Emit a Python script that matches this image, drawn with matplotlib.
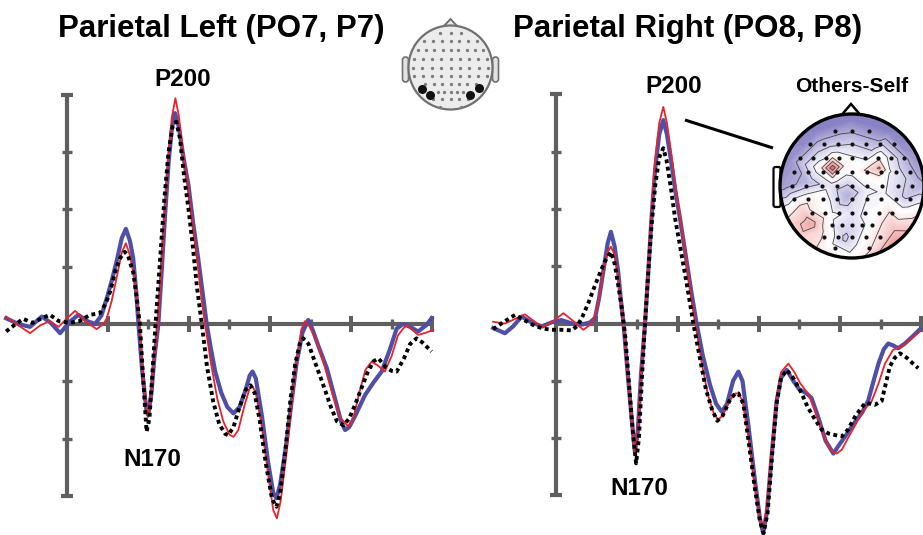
import numpy as np
import matplotlib
matplotlib.use("Agg")
import matplotlib.pyplot as plt
from matplotlib.patches import Circle, Polygon, FancyBboxPatch
import matplotlib.tri as mtri
from matplotlib.colors import LinearSegmentedColormap

# ---------------- data (time in ms, amplitude in uV) ----------------
left_blue = [(-150,0.10),(-120,0.0),(-91,-0.05),(-62,0.13),(-40,0.02),(-17,-0.16),(7,0.04),(28,0.16),(50,0.05),(69,0.0),
             (85,0.15),(98,0.45),(110,0.75),(122,1.09),(135,1.5),(145,1.66),(155,1.45),(163,1.15),(170,0.6),(176,0.0),
             (185,-0.8),(196,-1.53),(200,-1.59),(208,-1.2),(215,-0.6),(225,0.0),(233,0.9),(241,1.84),(250,2.8),(258,3.4),
             (266,3.68),(275,3.45),(287,2.9),(299,2.43),(310,1.8),(323,1.15),(334,0.55),(344,0.0),(355,-0.45),(365,-0.83),
             (380,-1.2),(395,-1.45),(410,-1.56),(425,-1.45),(440,-1.15),(450,-0.9),(457,-0.83),(465,-0.95),(480,-1.6),
             (495,-2.4),(508,-2.95),(516,-3.04),(525,-2.8),(540,-2.1),(553,-1.36),(565,-0.7),(580,-0.15),(594,0.07),
             (605,-0.1),(620,-0.4),(640,-0.77),(660,-1.3),(675,-1.7),(685,-1.85),(695,-1.8),(710,-1.6),(734,-1.24),
             (755,-1.02),(775,-0.83),(795,-0.45),(812,-0.08),(828,0.0),(845,-0.05),(865,-0.13),(885,-0.02),(898,0.1)]

left_red = [(-150,0.13),(-125,0.0),(-91,-0.16),(-65,-0.02),(-42,0.05),(-21,-0.05),(0,0.1),(20,0.23),(45,0.05),(73,-0.09),
            (90,0.0),(98,0.1),(110,0.4),(122,0.8),(135,1.25),(145,1.41),(155,1.2),(163,0.9),(172,0.56),(180,-0.1),
            (188,-0.95),(196,-1.5),(200,-1.62),(208,-1.25),(215,-0.6),(224,0.0),(233,0.95),(241,1.9),(250,2.9),(258,3.6),
            (267,3.94),(275,3.65),(287,2.95),(299,2.35),(310,1.7),(323,1.0),(332,0.4),(340,0.0),(355,-0.7),(370,-1.3),
            (385,-1.7),(400,-1.93),(410,-1.97),(422,-1.85),(438,-1.4),(450,-1.12),(457,-1.09),(465,-1.2),(480,-1.8),
            (495,-2.6),(508,-3.25),(517,-3.39),(526,-3.1),(540,-2.3),(553,-1.45),(565,-0.7),(577,-0.1),(586,0.05),
            (598,-0.05),(615,-0.3),(635,-0.75),(655,-1.25),(675,-1.65),(693,-1.79),(705,-1.65),(720,-1.2),(735,-0.8),
            (750,-0.66),(765,-0.72),(783,-0.83),(800,-0.55),(815,-0.2),(828,-0.08),(837,-0.02),(850,-0.1),(865,-0.19),
            (885,-0.15),(902,-0.1)]

left_black = [(-150,-0.13),(-130,-0.02),(-108,0.09),(-85,0.02),(-62,0.1),(-42,0.16),(-20,0.05),(7,0.02),(30,0.05),(57,0.16),
              (81,0.19),(95,0.35),(106,0.56),(120,0.95),(131,1.15),(142,1.26),(150,1.2),(163,0.9),(172,0.45),(180,-0.05),
              (188,-1.0),(196,-1.88),(203,-1.65),(210,-0.9),(218,0.0),(228,1.0),(240,2.2),(250,3.0),(260,3.45),(269,3.53),
              (278,3.25),(288,2.6),(299,2.02),(310,1.35),(320,0.65),(332,0.0),(345,-0.75),(360,-1.35),(375,-1.75),
              (390,-1.92),(397,-1.94),(410,-1.8),(425,-1.45),(440,-1.15),(452,-1.07),(462,-1.2),(475,-1.7),(490,-2.45),
              (505,-3.05),(516,-3.19),(525,-2.95),(538,-2.2),(550,-1.35),(562,-0.7),(573,-0.35),(582,-0.25),(595,-0.35),
              (610,-0.65),(631,-1.06),(650,-1.45),(665,-1.7),(681,-1.77),(695,-1.65),(710,-1.4),(722,-1.18),(740,-0.85),
              (755,-0.65),(767,-0.6),(785,-0.75),(800,-0.82),(812,-0.83),(830,-0.6),(845,-0.35),(861,-0.25),(875,-0.32),
              (898,-0.48)]

right_blue = [(-154,-0.08),(-125,-0.17),(-105,-0.05),(-84,0.12),(-60,0.02),(-34,-0.05),(-10,0.02),(14,0.06),(40,0.0),
              (64,-0.02),(85,0.02),(97,0.1),(107,0.45),(117,0.9),(128,1.4),(136,1.6),(145,1.35),(154,0.9),(160,0.45),
              (167,0.0),(177,-0.85),(187,-1.65),(195,-2.24),(202,-1.9),(210,-0.9),(220,0.0),(228,0.9),(236,1.84),
              (245,2.7),(255,3.3),(265,3.55),(274,3.3),(285,2.8),(295,2.3),(306,1.84),(320,1.2),(333,0.6),(347,0.0),
              (362,-0.55),(380,-1.07),(395,-1.4),(409,-1.54),(422,-1.4),(437,-1.0),(450,-0.84),(460,-1.0),(475,-1.8),
              (490,-2.7),(503,-3.4),(511,-3.66),(520,-3.3),(532,-2.3),(544,-1.36),(555,-0.95),(569,-0.81),(585,-1.0),
              (600,-1.15),(618,-1.22),(630,-1.3),(645,-1.6),(665,-2.05),(684,-2.27),(695,-2.15),(713,-1.97),(741,-1.68),
              (755,-1.55),(770,-1.34),(783,-1.0),(795,-0.7),(808,-0.45),(819,-0.35),(830,-0.38),(844,-0.43),(860,-0.35),
              (880,-0.22),(897,-0.10)]

right_red = [(-154,0.03),(-125,0.0),(-100,0.08),(-76,0.16),(-55,0.05),(-31,-0.07),(-5,0.05),(19,0.18),(42,0.05),(68,-0.11),
             (85,-0.02),(97,0.14),(107,0.45),(117,0.9),(128,1.25),(136,1.34),(145,1.2),(154,0.8),(160,0.4),(167,0.0),
             (177,-0.85),(187,-1.65),(195,-2.24),(202,-1.9),(210,-0.9),(219,0.0),(228,1.0),(236,1.95),(245,2.85),
             (255,3.5),(265,3.78),(274,3.5),(285,2.95),(295,2.4),(306,1.9),(320,1.2),(332,0.55),(344,0.0),(360,-0.7),
             (375,-1.25),(390,-1.58),(400,-1.68),(412,-1.6),(428,-1.35),(442,-1.22),(450,-1.22),(460,-1.35),(475,-2.0),
             (490,-2.8),(503,-3.4),(511,-3.58),(520,-3.2),(532,-2.2),(544,-1.3),(555,-0.85),(573,-0.70),(588,-0.85),
             (602,-1.04),(624,-1.25),(640,-1.55),(660,-1.95),(675,-2.2),(692,-2.27),(705,-2.2),(720,-2.0),(745,-1.68),
             (760,-1.5),(778,-1.36),(795,-1.05),(811,-0.70),(831,-0.46),(852,-0.40),(870,-0.3),(897,-0.14)]

right_black = [(-154,-0.1),(-130,0.02),(-100,0.15),(-75,0.05),(-52,-0.04),(-30,-0.09),(-10,-0.11),(15,-0.11),(39,-0.12),
               (52,-0.05),(64,0.09),(80,0.35),(97,0.67),(110,0.9),(121,1.08),(136,1.25),(145,1.05),(154,0.67),(162,0.3),
               (171,-0.2),(180,-1.0),(190,-1.9),(198,-2.44),(205,-2.0),(212,-1.0),(220,0.0),(228,0.9),(236,1.7),
               (245,2.4),(255,2.9),(265,3.06),(273,2.85),(284,2.35),(294,1.84),(310,1.2),(325,0.6),(339,0.0),(355,-0.6),
               (370,-1.15),(385,-1.5),(398,-1.70),(412,-1.6),(428,-1.35),(442,-1.22),(450,-1.22),(462,-1.4),(475,-2.05),
               (490,-2.85),(503,-3.45),(512,-3.66),(522,-3.3),(533,-2.3),(544,-1.4),(555,-0.95),(569,-0.81),(585,-0.95),
               (606,-1.22),(620,-1.45),(639,-1.68),(655,-1.85),(672,-1.92),(690,-1.95),(705,-1.97),(720,-1.85),
               (737,-1.63),(750,-1.5),(762,-1.39),(775,-1.4),(786,-1.42),(803,-1.35),(813,-1.05),(823,-0.75),(835,-0.6),
               (848,-0.52),(865,-0.6),(880,-0.7),(893,-0.78)]

x_ticks_major = [100, 300, 500, 700, 900]
x_ticks_minor = [200, 400, 600, 800]
y_ticks = [-2, -1, 1, 2, 3]
y_ends = [-3, 4]

titles = ["Parietal Left (PO7, P7)", "Parietal Right (PO8, P8)"]

# topography (Others-Self): positions on unit head, value
topo_x = [0, -0.5, 0.5, -0.85, 0.85, -0.95, 0.95, 0, -0.3, 0.3, -0.27, -0.45, -0.1, 0.05, 0.38, 0.55, 0.2,
          -0.6, -0.3, -0.06, 0.2, 0.45, 0.75, -0.85, -0.57, -0.3, 0, 0.3, 0.59, 0.68, 0.85, -0.1, -0.4, 0.25, 0, -0.75,
          -0.27, -0.27, 0.38, 0.38, -0.06, -0.06, -0.7, -0.45]
topo_y = [0.9, 0.75, 0.75, 0.35, 0.35, 0, 0, 0.55, 0.55, 0.55, 0.25, 0.25, 0.28, 0.2, 0.25, 0.2, 0.35,
          0.05, 0, -0.14, -0.05, -0.1, -0.15, -0.4, -0.53, -0.4, -0.4, -0.45, -0.62, -0.81, -0.5, -0.74, -0.85, -0.9, -1.0, -0.7,
          0.44, 0.07, 0.42, 0.08, 0.05, -0.3, -0.3, -0.62]
topo_v = [-0.85, -0.85, -0.85, -0.75, -0.7, -0.7, -0.55, -0.3, -0.35, -0.45, 1.0, 0.05, 0.1, 0.0, 0.55, -0.15, -0.1,
          -0.5, -0.2, -0.6, -0.15, -0.1, -0.4, 0.2, 0.65, -0.05, -0.2, 0.0, 0.5, 0.8, 0.3, -0.4, 0.1, 0.2, 0.0, 0.4,
          -0.05, -0.05, 0.05, 0.0, -0.3, -0.3, 0.3, 0.3]
rim_angle = [90, 60, 30, 0, -30, -60, -90, -120, -150, 180, 150, 120]
rim_v = [-0.9, -0.9, -0.8, -0.6, 0.4, 0.8, 0.0, 0.2, 0.3, -0.75, -0.8, -0.9]

electrode_rows = [(0.82, [-0.26, 0.0, 0.26]),
                  (0.62, [-0.62, -0.42, -0.21, 0.0, 0.21, 0.42, 0.62]),
                  (0.42, [-0.78, -0.58, -0.39, -0.19, 0.0, 0.19, 0.39, 0.58, 0.78]),
                  (0.21, [-0.86, -0.65, -0.43, -0.22, 0.0, 0.22, 0.43, 0.65, 0.86]),
                  (0.0, [-0.9, -0.68, -0.45, -0.23, 0.0, 0.23, 0.45, 0.68, 0.9]),
                  (-0.2, [-0.86, -0.65, -0.43, -0.22, 0.0, 0.22, 0.43, 0.65, 0.86]),
                  (-0.4, [-0.6, -0.4, -0.2, 0.0, 0.2, 0.4, 0.6]),
                  (-0.58, [-0.3, -0.15, 0.0, 0.15, 0.3]),
                  (-0.76, [-0.42, -0.21, 0.0, 0.21, 0.42]),
                  (-0.93, [-0.25, 0.25])]
selected = [(-0.67, -0.5), (-0.48, -0.65), (0.67, -0.48), (0.47, -0.65)]

# ---------------- figure ----------------
W, H = 923, 535
fig = plt.figure(figsize=(W / 100, H / 100), dpi=100)
FONT = "Liberation Sans"
BLUE, RED, GRAY = "#4f4fa6", "#e8232b", "#5f5f5f"


def add_panel(X0, Y0, SX, SY, xlim, ylim):
    x0 = X0 + SX * xlim[0] / 100.0
    x1 = X0 + SX * xlim[1] / 100.0
    ytop = Y0 - SY * ylim[1]
    ybot = Y0 - SY * ylim[0]
    ax = fig.add_axes([x0 / W, 1 - ybot / H, (x1 - x0) / W, (ybot - ytop) / H])
    ax.set_xlim(*xlim)
    ax.set_ylim(*ylim)
    ax.axis("off")
    return ax


def draw_panel(ax, blue, red, black):
    ax.plot([0, 0], [y_ends[0], y_ends[1]], color=GRAY, lw=3.0, solid_capstyle="butt", zorder=1)
    ax.plot([0, 900], [0, 0], color=GRAY, lw=3.0, solid_capstyle="butt", zorder=1)
    ax.plot([0] * len(y_ticks), y_ticks, ls="none", marker="_", ms=6.5, mew=2.4, color=GRAY, zorder=1)
    ax.plot([0] * len(y_ends), y_ends, ls="none", marker="_", ms=8.0, mew=3.0, color=GRAY, zorder=1)
    ax.plot(x_ticks_major, [0] * len(x_ticks_major), ls="none", marker="|", ms=11.5, mew=2.9, color=GRAY, zorder=1)
    ax.plot(x_ticks_minor, [0] * len(x_ticks_minor), ls="none", marker="|", ms=7.5, mew=2.4, color=GRAY, zorder=1)
    t, v = np.array(blue).T
    ax.plot(t, v, color=BLUE, lw=3.0, solid_joinstyle="round", zorder=3)
    t, v = np.array(red).T
    ax.plot(t, v, color=RED, lw=1.3, solid_joinstyle="round", zorder=4)
    t, v = np.array(black).T
    ax.plot(t, v, color="black", lw=2.8, dashes=(1.0, 0.9), zorder=5)


axL = add_panel(67, 324, 40.6, 57.3, (-165, 930), (-3.6, 4.6))
draw_panel(axL, left_blue, left_red, left_black)
axR = add_panel(555.7, 323.5, 40.6, 57.3, (-170, 910), (-3.8, 4.6))
draw_panel(axR, right_blue, right_red, right_black)

# overlay in pixel coordinates
ov = fig.add_axes([0, 0, 1, 1])
ov.set_xlim(0, W)
ov.set_ylim(H, 0)
ov.axis("off")

ov.text(221, 37.5, titles[0], ha="center", va="baseline", fontsize=22.5, fontweight="bold", family=FONT)
ov.text(688, 37.5, titles[1], ha="center", va="baseline", fontsize=22.5, fontweight="bold", family=FONT)
lab = dict(ha="center", va="baseline", fontsize=17.5, fontweight="bold", family=FONT)
ov.text(183, 86, "P200", **lab)
ov.text(152, 466, "N170", **lab)
ov.text(674, 93, "P200", **lab)
ov.text(639, 495, "N170", **lab)
ov.text(852, 92, "Others-Self", ha="center", va="baseline", fontsize=15, fontweight="bold", family=FONT)

# small head icon
hx, hy, hr = 450.5, 67.5, 42
for ex in (402.5, 492.5):
    ov.add_patch(FancyBboxPatch((ex, 57), 6, 25, boxstyle="round,pad=0,rounding_size=3",
                                fc="#e2e2e2", ec="#707070", lw=1.2, zorder=5))
ov.add_patch(Polygon([(443, 27), (450.5, 19), (458, 27)], closed=True, fc="#ebebeb", ec="#707070", lw=1.4, zorder=5))
ov.add_patch(Circle((hx, hy), hr, fc="#ececec", ec="#707070", lw=1.6, zorder=6))
for ry, xs in electrode_rows:
    ov.plot([hx + hr * x for x in xs], [hy - hr * ry] * len(xs), ls="none", marker="o", ms=2.4,
            color="#7c7c7c", mec="none", zorder=7)
sx, sy = zip(*selected)
ov.plot([hx + hr * x for x in sx], [hy - hr * y for y in sy], ls="none", marker="o", ms=6.5,
        color="#111111", mec="none", zorder=8)

# connector line
ov.plot([685, 773], [120, 148], color="black", lw=2.2, solid_capstyle="butt", zorder=5)

# topographic map
tx, ty, tr = 852, 186, 72
ov.add_patch(FancyBboxPatch((773.5, 167), 7, 40, boxstyle="round,pad=0,rounding_size=2",
                            fc="white", ec="black", lw=1.6, zorder=5))
ov.add_patch(Polygon([(839, 118), (851, 104), (863, 118)], closed=True, fc="white", ec="black", lw=1.8, zorder=5))
ov.add_patch(Circle((tx, ty), tr, fc="white", ec="none", zorder=6))
px = list(topo_x) + [1.05 * np.cos(np.radians(a)) for a in rim_angle]
py = list(topo_y) + [1.05 * np.sin(np.radians(a)) for a in rim_angle]
pv = list(topo_v) + list(rim_v)
X = [tx + tr * a for a in px]
Y = [ty - tr * b for b in py]
tri = mtri.Triangulation(X, Y)
cmap = LinearSegmentedColormap.from_list("pw", ["#6a61b2", "#b7b2dd", "#ffffff", "#f5bcbc", "#e06464"])
clip = Circle((tx, ty), tr, transform=ov.transData)
cf = ov.tricontourf(tri, pv, levels=np.linspace(-1.1, 1.1, 45), cmap=cmap, zorder=7)
cf.set_clip_path(clip)
cl = ov.tricontour(tri, pv, levels=[-0.6, -0.35, -0.12, 0.2, 0.5, 0.8], colors="#454545",
                   linewidths=0.6, linestyles="solid", zorder=8)
cl.set_clip_path(clip)
for ry, xs in electrode_rows:
    ov.plot([tx + tr * 0.93 * x for x in xs], [ty - tr * 0.93 * ry] * len(xs), ls="none", marker="o", ms=3.0,
            color="#111111", mec="none", zorder=9)
ov.add_patch(Circle((tx, ty), tr, fc="none", ec="black", lw=2.4, zorder=10))

fig.savefig("out.png", dpi=100)
